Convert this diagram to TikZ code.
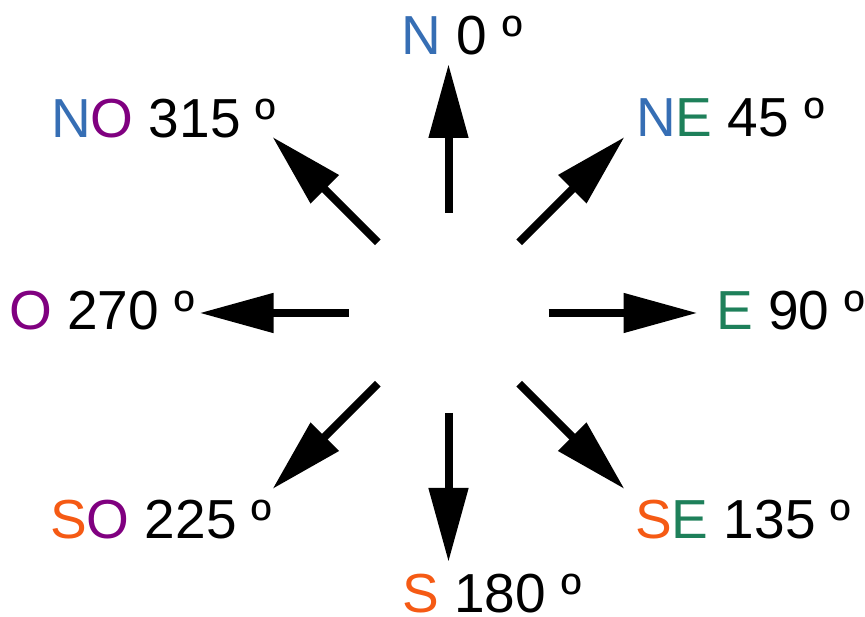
\documentclass[tikz,border=0pt]{standalone}
\usepackage{fontspec}
\setmainfont{Liberation Sans}
\definecolor{cN}{RGB}{54,110,180}
\definecolor{cE}{RGB}{30,128,90}
\definecolor{cO}{RGB}{128,0,128}
\definecolor{cS}{RGB}{245,90,20}
\usetikzlibrary{arrows.meta}
\tikzset{
  arrow/.style={line width=8pt,-{Triangle[length=74pt,width=38pt]}},
  lbl/.style={anchor=base west,inner sep=0pt,font=\fontsize{55}{60}\selectfont}
}
\begin{document}
\begin{tikzpicture}[x=1pt,y=1pt]
    \useasboundingbox (0,0) rectangle (865,617);
    \coordinate (c) at (448.5,304);

    \foreach \d/\a in {n/90, ne/45, e/0, se/-45, s/-90, so/-135, o/180, no/135} {
      \coordinate (\d0) at ([shift={(\a:100)}]c);
      \coordinate (\d1) at ([shift={(\a:249)}]c);
      \draw[arrow] (\d0) -- (\d1);
    }

    \node[lbl] (lN)  at (401,562) {\textcolor{cN}{N} 0 º};
    \node[lbl] (lNE) at (636,480) {\textcolor{cN}{N}\textcolor{cE}{E} 45 º};
    \node[lbl] (lE)  at (716,287) {\textcolor{cE}{E} 90 º};
    \node[lbl] (lSE) at (635,78)  {\textcolor{cS}{S}\textcolor{cE}{E} 135 º};
    \node[lbl] (lS)  at (402,4)   {\textcolor{cS}{S} 180 º};
    \node[lbl] (lSO) at (50,78)   {\textcolor{cS}{S}\textcolor{cO}{O} 225 º};
    \node[lbl] (lO)  at (9,287)   {\textcolor{cO}{O} 270 º};
    \node[lbl] (lNO) at (51,479)  {\textcolor{cN}{N}\textcolor{cO}{O} 315 º};
  \end{tikzpicture}
\end{document}
